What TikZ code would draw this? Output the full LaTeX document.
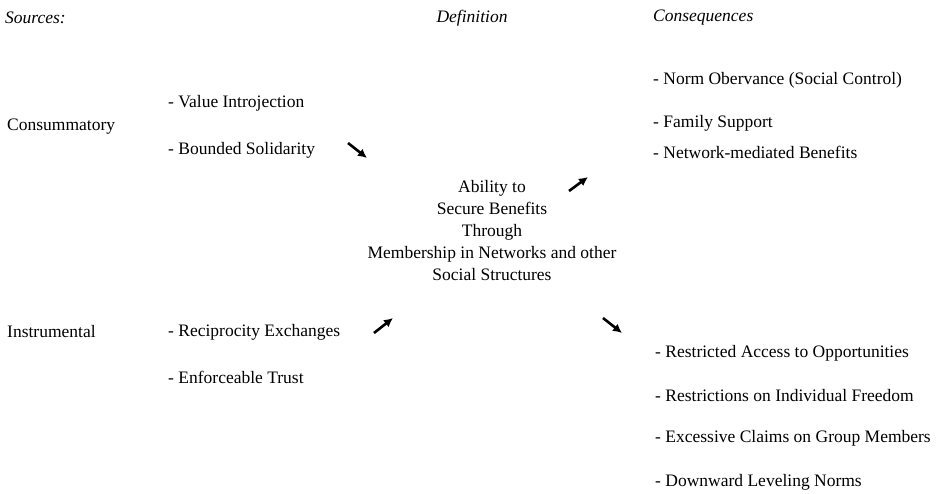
\documentclass[tikz,border=0pt]{standalone}
\usepackage{fontspec}
\setmainfont{Liberation Serif}
\usetikzlibrary{arrows.meta}
\tikzset{
  txt/.style={anchor=west,inner sep=0pt,font=\fontsize{17.5}{22}\selectfont},
  head/.style={txt,font=\fontsize{17.5}{22}\selectfont\itshape},
  flow/.style={line width=2.6pt,-{Latex[length=9pt,width=9pt]}}
}
\begin{document}
\begin{tikzpicture}[x=1pt,y=-1pt]
    \useasboundingbox (0,0) rectangle (947,494);
    \node[head] (src) at (5,18) {Sources:};
    \node[head,anchor=center] (def) at (472,18) {Definition};
    \node[head] (cons) at (653,18) {Consequences};
    \node[txt] (consum) at (7,127) {Consummatory};
    \node[txt] (instr) at (7,332) {Instrumental};
    \node[txt] (value) at (168,103) {- Value Introjection};
    \node[txt] (bound) at (168,150) {- Bounded Solidarity};
    \node[txt] (recip) at (168,332) {- Reciprocity Exchanges};
    \node[txt] (trust) at (168,377) {- Enforceable Trust};
    \node[txt,anchor=north,align=center] (ability) at (492,180)
      {Ability to\\Secure Benefits\\Through\\Membership in Networks and other\\Social Structures};
    \node[txt] (norm) at (653,80) {- Norm Obervance (Social Control)};
    \node[txt] (family) at (653,123) {- Family Support};
    \node[txt] (netben) at (653,152) {- Network-mediated Benefits};
    \node[txt] (access) at (655,353) {- Restricted Access to Opportunities};
    \node[txt] (freedom) at (655,396) {- Restrictions on Individual Freedom};
    \node[txt] (claims) at (655,438) {- Excessive Claims on Group Members};
    \node[txt] (level) at (655,482) {- Downward Leveling Norms};
    \coordinate (ina) at (348,143);
    \coordinate (inb) at (367,158);
    \coordinate (inc) at (374,333);
    \coordinate (ind) at (393,318);
    \coordinate (outa) at (569,191);
    \coordinate (outb) at (588,177);
    \coordinate (outc) at (603,318);
    \coordinate (outd) at (622,333);
    \draw[flow] (ina) -- (inb);
    \draw[flow] (inc) -- (ind);
    \draw[flow] (outa) -- (outb);
    \draw[flow] (outc) -- (outd);
\end{tikzpicture}
\end{document}
